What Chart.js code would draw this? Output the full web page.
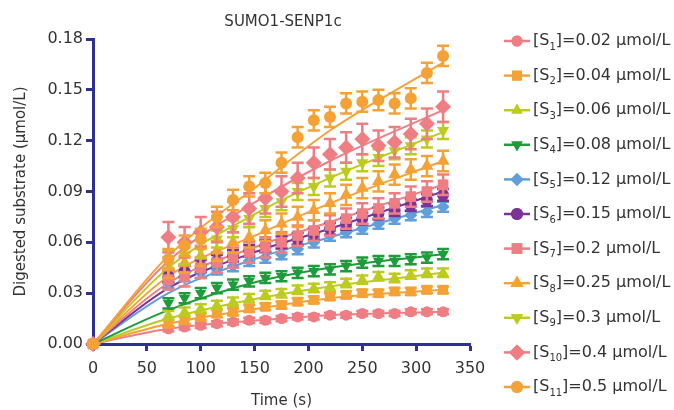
<!DOCTYPE html>
<html><head><meta charset="utf-8">
<script src="https://cdn.jsdelivr.net/npm/chart.js@4.4.1/dist/chart.umd.min.js"></script>
<style>html,body{margin:0;padding:0;background:#fff}#wrap{width:674px;height:410px;position:relative}</style>
</head><body><div id="wrap"><canvas id="c" width="674" height="410"></canvas></div>
<script>
// ---------- data ----------
const times = [0,70,85,100,115,130,145,160,175,190,205,220,235,250,265,280,295,310,325];
const s1  = [0,.009,.010,.011,.012,.013,.014,.014,.015,.016,.016,.017,.017,.018,.018,.018,.019,.019,.019];
const s2  = [0,.012,.014,.016,.018,.019,.021,.022,.023,.025,.026,.028,.029,.030,.030,.031,.031,.032,.032];
const s3  = [0,.017,.019,.021,.023,.025,.027,.029,.030,.032,.033,.034,.036,.038,.040,.039,.041,.042,.042];
const s4  = [0,.024,.027,.030,.033,.035,.037,.039,.040,.042,.043,.044,.046,.048,.049,.049,.050,.051,.053];
const s5  = [0,.036,.040,.042,.044,.046,.049,.051,.053,.056,.060,.064,.066,.068,.071,.074,.076,.078,.081];
const s6  = [0,.040,.043,.046,.049,.052,.055,.058,.060,.062,.065,.068,.071,.074,.077,.079,.082,.085,.088];
const s7  = [0,.038,.040,.045,.048,.051,.054,.057,.060,.064,.067,.070,.074,.077,.080,.083,.087,.090,.094];
const s8  = [0,.045,.048,.052,.055,.060,.063,.067,.071,.075,.079,.083,.088,.092,.096,.100,.103,.105,.108];
const s9  = [0,.050,.052,.056,.062,.068,.074,.080,.084,.090,.093,.098,.102,.107,.110,.114,.117,.121,.126];
const s10 = [0,.063,.060,.066,.069,.075,.080,.086,.090,.098,.107,.112,.116,.121,.117,.119,.124,.130,.140];
const s11 = [0,.050,.058,.062,.075,.085,.093,.095,.107,.122,.132,.134,.142,.143,.144,.142,.145,.160,.170];
const seriesErr = [.0015,.002,.0025,.003,.003,.0035,.006,.006,.005,.009,.006];

const fitTimes = [0,70,154,220,325];
const f1  = [0,.009,.014,.017,.019];
const f2  = [0,.012,.021,.027,.032];
const f3  = [0,.015,.027,.034,.042];
const f4  = [0,.020,.037,.045,.053];
const f5  = [0,.030,.051,.063,.082];
const f6  = [0,.033,.055,.068,.090];
const f7  = [0,.036,.058,.072,.094];
const f8  = [0,.040,.065,.083,.108];
const f9  = [0,.045,.078,.098,.125];
const f10 = [0,.049,.085,.108,.138];
const f11 = [0,.052,.094,.126,.166];

const concLabels = ["0.02","0.04","0.06","0.08","0.12","0.15","0.2","0.25","0.3","0.4","0.5"];
const subLabels = ["1","2","3","4","5","6","7","8","9","10","11"];
const yTicks = [0,0.03,0.06,0.09,0.12,0.15,0.18];
const xTicks = [0,50,100,150,200,250,300,350];

// ---------- styles ----------
const PINK='#EF7E84', ORANGE='#F4A236', YG='#BDCB1E', GREEN='#1E9B3A', BLUE='#619FDB', PURPLE='#7B3495';
const colors = [PINK,ORANGE,YG,GREEN,BLUE,PURPLE,PINK,ORANGE,YG,PINK,ORANGE];
const styles = ['circle','rect','triangle','triangle','rectRot','circle','rect','triangle','triangle','rectRot','circle'];
const rots   = [0,0,0,180,0,0,0,0,180,0,0];
const radii  = [5.5,7,6.5,6.5,6.5,6,7.5,7.5,7,8,6];
const NAVY = '#2E3192';

const dataSeries = [s1,s2,s3,s4,s5,s6,s7,s8,s9,s10,s11];
const fitSeries = [f1,f2,f3,f4,f5,f6,f7,f8,f9,f10,f11];

const datasets = [];
dataSeries.forEach((s,i)=>{
  datasets.push({
    type:'line', label:'fit'+i, isFit:true,
    data: fitTimes.map((t,k)=>({x:t,y:fitSeries[i][k]})),
    borderColor: colors[i], borderWidth: 2, pointRadius:0, fill:false,
    cubicInterpolationMode:'monotone', order: 30 - i
  });
  datasets.push({
    type:'line', label:'S'+(i+1), idx:i, showLine:false, clip:false,
    data: times.map((t,k)=>({x:t,y:s[k]})),
    err: seriesErr[i],
    borderColor: colors[i], backgroundColor: colors[i], borderWidth:0,
    pointStyle: styles[i], pointRotation: rots[i], pointRadius: radii[i],
    pointBackgroundColor: colors[i], pointBorderColor: colors[i], pointBorderWidth:0,
    order: 11 - i
  });
});

const errPlugin = {
  id:'errbars',
  beforeDatasetDraw(chart,args){
    const ds = chart.data.datasets[args.index];
    if(ds.err===undefined) return;
    const ctx = chart.ctx, ys = chart.scales.y;
    ctx.save();
    ctx.strokeStyle = ds.borderColor; ctx.lineWidth = 2.5; ctx.lineCap='butt';
    args.meta.data.forEach((pt,k)=>{
      const v = ds.data[k].y; if(v===0) return;
      const yt = ys.getPixelForValue(v+ds.err), yb = ys.getPixelForValue(v-ds.err);
      ctx.beginPath();
      ctx.moveTo(pt.x,yt); ctx.lineTo(pt.x,yb);
      ctx.moveTo(pt.x-6,yt); ctx.lineTo(pt.x+6,yt);
      ctx.moveTo(pt.x-6,yb); ctx.lineTo(pt.x+6,yb);
      ctx.stroke();
    });
    ctx.restore();
  }
};

const FONT = '"DejaVu Sans", sans-serif';
const legendPlugin = {
  id:'customLegend',
  afterDraw(chart){
    const ctx = chart.ctx;
    ctx.save();
    for(let i=0;i<11;i++){
      const y = 41 + i*34.6;
      ctx.strokeStyle = colors[i]; ctx.lineWidth = 2.5;
      ctx.beginPath(); ctx.moveTo(504,y); ctx.lineTo(530,y); ctx.stroke();
      ctx.fillStyle = colors[i];
      Chart.helpers.drawPoint(ctx,{pointStyle:styles[i],rotation:rots[i],radius:radii[i],borderWidth:0},517,y);
      ctx.fill();
      ctx.fillStyle = '#333';
      ctx.textBaseline = 'middle';
      ctx.font = '16px '+FONT;
      let x = 533;
      ctx.fillText('[S',x,y); x += ctx.measureText('[S').width;
      ctx.font = '10px '+FONT;
      ctx.fillText(subLabels[i],x,y+6); x += ctx.measureText(subLabels[i]).width;
      ctx.font = '16px '+FONT;
      ctx.fillText(']='+concLabels[i]+' \u03bcmol/L',x,y);
    }
    ctx.font = '15px '+FONT;
    ctx.textAlign = 'center';
    ctx.fillText('SUMO1-SENP1c',283,22);
    ctx.restore();
  }
};

new Chart(document.getElementById('c'),{
  type:'line',
  data:{datasets},
  plugins:[errPlugin,legendPlugin],
  options:{
    responsive:false, animation:false, devicePixelRatio:1,
    layout:{padding:{left:0,right:204,top:39,bottom:0}},
    plugins:{legend:{display:false},tooltip:{enabled:false},title:{display:false}},
    scales:{
      x:{type:'linear',min:0,max:350,
        afterBuildTicks(s){ s.ticks = xTicks.map(v=>({value:v})); },
        afterFit(s){ s.height = 66; },
        border:{display:true,color:NAVY,width:3},
        grid:{display:true,drawOnChartArea:false,drawTicks:true,tickLength:7,tickColor:NAVY,tickWidth:3,color:NAVY},
        ticks:{color:'#333',font:{size:16,family:FONT},padding:8,maxRotation:0},
        title:{display:true,text:'Time (s)',color:'#333',font:{size:15,family:FONT},padding:{top:4,bottom:0}}
      },
      y:{type:'linear',min:0,max:0.18,
        afterBuildTicks(s){ s.ticks = yTicks.map(v=>({value:v})); },
        afterFit(s){ s.width = 93; },
        border:{display:true,color:NAVY,width:3},
        grid:{display:true,drawOnChartArea:false,drawTicks:true,tickLength:7,tickColor:NAVY,tickWidth:3,color:NAVY},
        ticks:{color:'#333',font:{size:16,family:FONT},padding:3,callback:v=>v.toFixed(2)},
        title:{display:true,text:'Digested substrate (\u03bcmol/L)',color:'#333',font:{size:15,family:FONT},padding:{top:12,bottom:4}}
      }
    }
  }
});
</script></body></html>
